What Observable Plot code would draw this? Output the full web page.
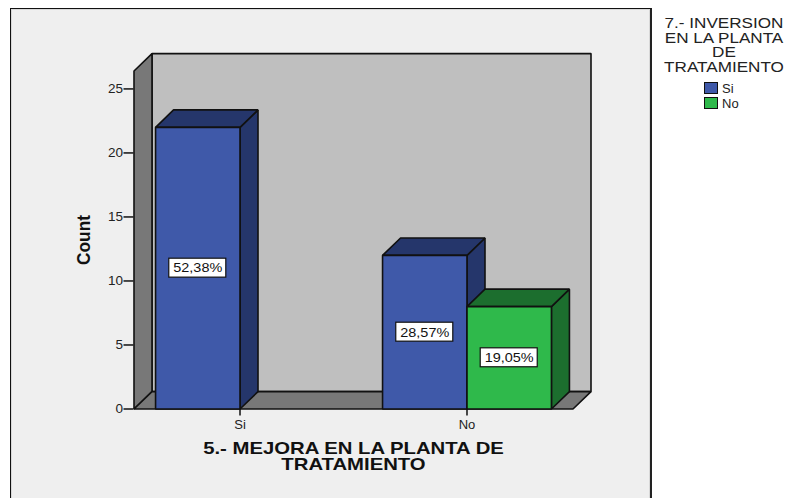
<!DOCTYPE html>
<html><head><meta charset="utf-8">
<script src="https://cdn.jsdelivr.net/npm/d3@7"></script>
<script src="https://cdn.jsdelivr.net/npm/@observablehq/plot@0.6"></script>
<style>
html,body{margin:0;padding:0;background:#fff;overflow:hidden;width:786px;height:498px;font-family:"Liberation Sans",Arial,sans-serif}
#panel{position:absolute;left:10px;top:8px;width:639px;height:520px;background:#efefef;border:1.5px solid #111;border-right:2px solid #222;box-shadow:inset 0 0 0 1px #d8d8d8}
#chart{position:absolute;left:0;top:0}
#legend{position:absolute;left:657.5px;top:16px;width:132px;text-align:center;color:#222;font-size:14.5px;line-height:14.6px}
#legend .ttl{transform:scaleX(1.18);white-space:nowrap}
.item{position:absolute;left:46.5px;font-size:13px;line-height:13px;text-align:left;white-space:nowrap}
.item i{display:inline-block;width:12px;height:10px;border:1px solid #111;margin-right:4px;vertical-align:-1px}
</style></head><body>
<div id="panel"></div><div id="chart"></div><div id="legend"></div>
<script>
const categories = ["Si", "No"];
const seriesNames = ["Si", "No"];
const countsSi = [22, 12];
const countsNo = [0, 8];
const percentSi = ["52,38%", "28,57%"];
const percentNo = ["", "19,05%"];
const yTicks = [0, 5, 10, 15, 20, 25];
const xTitle = "5.- MEJORA EN LA PLANTA DE\nTRATAMIENTO";
const yTitle = "Count";
const legendTitle = ["7.- INVERSION", "EN LA PLANTA", "DE", "TRATAMIENTO"];
const colors = {front:["#3f59a9","#2fb94b"], dark:["#25366b","#1c6e2e"], wall:"#787878", back:"#bfbfbf"};

// layout in scale units
const barW = 0.372, depthX = 0.0793, depthY = 1.36;
const xMin = -0.467, xMax = 1.467, yMax = 26.4;
const boxW = 0.1256, boxH = 0.74;

const bars = [];
categories.forEach((c, i) => {
  if (countsSi[i] > 0) bars.push({x1:i-barW, x2:i, v:countsSi[i], s:0, label:percentSi[i]});
  if (countsNo[i] > 0) bars.push({x1:i, x2:i+barW, v:countsNo[i], s:1, label:percentNo[i]});
});
bars.sort((a,b)=>a.x2-b.x2);

const line = {stroke:"#111", strokeWidth:1.6, curve:"linear-closed", strokeLinejoin:"miter"};
const poly = (pts, fill) => Plot.line(pts.map(([x,y])=>({x,y})), {x:"x", y:"y", fill, ...line});

const marks = [
  poly([[xMin+depthX,depthY],[xMax+depthX,depthY],[xMax+depthX,yMax+depthY],[xMin+depthX,yMax+depthY]], colors.back),
  poly([[xMin,0],[xMin+depthX,depthY],[xMin+depthX,yMax+depthY],[xMin,yMax]], colors.wall),
  poly([[xMin,0],[xMin+depthX,depthY],[xMax+depthX,depthY],[xMax,0]], colors.wall)
];
bars.forEach(b => {
  marks.push(poly([[b.x2,0],[b.x2+depthX,depthY],[b.x2+depthX,b.v+depthY],[b.x2,b.v]], colors.dark[b.s]));
  marks.push(poly([[b.x1,b.v],[b.x1+depthX,b.v+depthY],[b.x2+depthX,b.v+depthY],[b.x2,b.v]], colors.dark[b.s]));
  marks.push(poly([[b.x1,0],[b.x2,0],[b.x2,b.v],[b.x1,b.v]], colors.front[b.s]));
});
marks.push(
  Plot.rect(bars, {
    x1:b=>(b.x1+b.x2)/2-boxW, x2:b=>(b.x1+b.x2)/2+boxW,
    y1:b=>b.v/2-boxH, y2:b=>b.v/2+boxH,
    fill:"#fff", stroke:"#111", strokeWidth:1.2
  }),
  Plot.text(bars, {
    x:b=>(b.x1+b.x2)/2, y:b=>b.v/2, text:"label", className:"pct",
    fontSize:13.5, fill:"#111", fontFamily:"Liberation Sans"
  }),
  Plot.axisY({ticks:yTicks, tickSize:10, tickPadding:1, fontSize:13.5, strokeWidth:1.5, stroke:"#111", fill:"#222", label:null, fontFamily:"Liberation Sans", className:"ytick"}),
  Plot.axisX({ticks:[0,1], tickFormat:i=>categories[i], tickSize:7, tickPadding:3.5, fontSize:13, strokeWidth:1.5, stroke:"#111", fill:"#222", label:null, fontFamily:"Liberation Sans"}),
  Plot.text([xTitle], {
    frameAnchor:"bottom", dy:60.5, text:d=>d, fontSize:16, fontWeight:"bold", lineHeight:0.94,
    fill:"#111", fontFamily:"Liberation Sans", lineAnchor:"bottom", className:"xttl"
  }),
  Plot.text([yTitle], {
    frameAnchor:"left", dx:-50, text:d=>d, rotate:-90, textAnchor:"middle", fontSize:18, fontWeight:"bold",
    fill:"#111", fontFamily:"Liberation Sans", className:"yttl"
  })
);

const chart = Plot.plot({
  width:786, height:498,
  marginLeft:133.5, marginRight:213.5, marginTop:70.5, marginBottom:89.5,
  style:{background:"transparent", overflow:"visible"},
  x:{domain:[xMin,xMax], axis:null},
  y:{domain:[0,yMax], axis:null},
  marks
});
// horizontal stretch of the reference's glyphs
const stretch = (sel, sx, sy=1) => chart.querySelectorAll(sel).forEach(t => {
  t.setAttribute("transform", (t.getAttribute("transform")||"") + ` scale(${sx},${sy})`);
});
stretch(".xttl text", 1.27);
stretch(".pct text", 1.07);
stretch(".yttl text", 0.96);
document.getElementById("chart").append(chart);

const lg = document.getElementById("legend");
legendTitle.forEach(t => { const d=document.createElement("div"); d.className="ttl"; d.textContent=t; lg.append(d); });
seriesNames.forEach((s,i) => {
  const d=document.createElement("div"); d.className="item"; d.style.top=(66+i*15)+"px";
  const sw=document.createElement("i"); sw.style.background=colors.front[i]; d.append(sw, s); lg.append(d);
});
</script>
</body></html>
